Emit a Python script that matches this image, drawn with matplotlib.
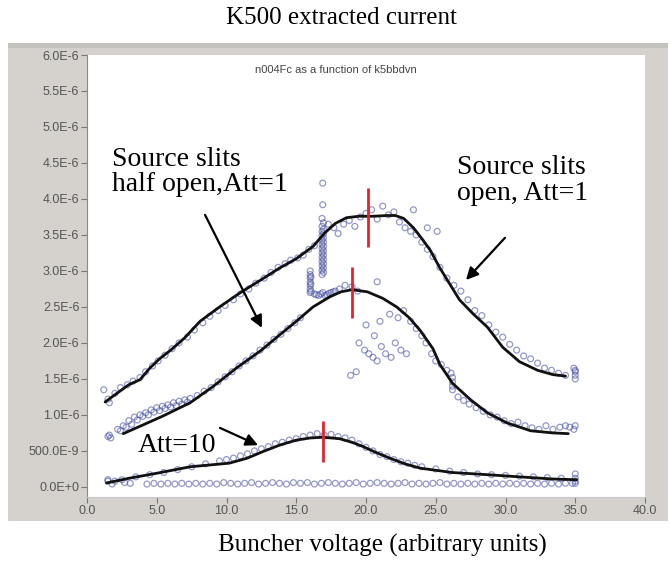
import matplotlib
matplotlib.use("Agg")
import matplotlib.pyplot as plt
from matplotlib.patches import Rectangle, FancyArrowPatch

# ---------------- data (current in units of 1E-6 A) ----------------
yticks = [0.0, 0.5, 1.0, 1.5, 2.0, 2.5, 3.0, 3.5, 4.0, 4.5, 5.0, 5.5, 6.0]
ytick_labels = ["0.0E+0", "500.0E-9", "1.0E-6", "1.5E-6", "2.0E-6", "2.5E-6",
                "3.0E-6", "3.5E-6", "4.0E-6", "4.5E-6", "5.0E-6", "5.5E-6", "6.0E-6"]
xticks = [0, 5, 10, 15, 20, 25, 30, 35, 40]
xtick_labels = ["0.0", "5.0", "10.0", "15.0", "20.0", "25.0", "30.0", "35.0", "40.0"]

# smooth hand-drawn curves
open_cx = [1.3, 2.0, 3.0, 3.8, 4.5, 5.2, 6.0, 7.0, 8.1, 9.5, 11.0, 12.5, 13.8, 15.0,
           16.2, 17.0, 17.8, 18.6, 19.5, 20.5, 21.5, 22.1, 22.7, 23.4, 24.0, 24.6,
           25.3, 26.0, 26.7, 27.7, 28.7, 29.8, 31.0, 32.3, 33.4, 34.3]
open_cy = [1.18, 1.28, 1.42, 1.49, 1.65, 1.78, 1.90, 2.07, 2.30, 2.50, 2.70, 2.88, 3.04, 3.17,
           3.34, 3.52, 3.66, 3.74, 3.76, 3.76, 3.77, 3.77, 3.73, 3.60, 3.45, 3.29,
           3.04, 2.82, 2.60, 2.40, 2.22, 1.94, 1.74, 1.62, 1.56, 1.54]

half_cx = [2.6, 4.0, 5.5, 7.4, 9.0, 10.7, 12.5, 13.8, 15.0, 16.2, 17.4, 18.2, 19.0, 20.1,
           21.2, 22.2, 23.1, 23.9, 24.8, 25.3, 26.2, 27.5, 28.7, 30.1, 31.8, 33.4, 34.5]
half_cy = [0.74, 0.86, 0.99, 1.17, 1.39, 1.65, 1.90, 2.11, 2.30, 2.50, 2.64, 2.71, 2.74, 2.71,
           2.62, 2.50, 2.35, 2.17, 1.92, 1.70, 1.44, 1.21, 1.03, 0.89, 0.78, 0.75, 0.74]

att10_cx = [1.4, 3.0, 5.0, 7.4, 10.2, 11.5, 12.6, 13.8, 15.0, 16.0, 16.9, 18.1, 19.0,
            19.8, 20.7, 21.7, 22.8, 23.9, 26.2, 28.7, 31.0, 33.4, 35.1]
att10_cy = [0.055, 0.12, 0.19, 0.28, 0.33, 0.40, 0.49, 0.58, 0.65, 0.68, 0.69, 0.67, 0.62,
            0.56, 0.48, 0.40, 0.32, 0.26, 0.20, 0.17, 0.14, 0.11, 0.10]

# measured points
open_px = [1.2, 1.5, 1.6, 2.0, 2.4, 2.9, 3.3, 3.8, 4.2, 4.7, 5.1, 5.6, 6.1, 6.6, 7.2, 7.7,
           8.3, 8.8, 9.4, 9.9, 10.5, 11.0, 11.6, 12.1, 12.7, 13.2, 13.7, 14.2, 14.6, 15.1,
           15.5, 15.9, 16.3,
           17.3, 17.7, 18.0, 18.4, 18.8, 19.2, 19.6, 20.0, 20.4, 20.8, 21.2, 21.6, 22.0,
           22.4, 22.8, 23.2, 23.4, 23.6, 24.0, 24.4, 24.4, 25.1, 24.8, 25.3, 25.8, 26.3,
           26.8, 27.3, 27.8, 28.3, 28.8, 29.3, 29.8, 30.3, 30.8, 31.3, 31.8, 32.3, 32.8,
           33.3, 33.8, 34.3, 34.9, 35.0, 35.0, 35.0, 35.0]
open_py = [1.35, 1.22, 1.17, 1.30, 1.38, 1.42, 1.47, 1.52, 1.60, 1.68, 1.75, 1.83, 1.92, 2.00,
           2.08, 2.18, 2.28, 2.37, 2.45, 2.52, 2.60, 2.68, 2.75, 2.83, 2.90, 2.98, 3.05,
           3.10, 3.15, 3.18, 3.22, 3.30, 3.35,
           3.65, 3.60, 3.52, 3.65, 3.70, 3.62, 3.75, 3.80, 3.85, 3.72, 3.90, 3.78, 3.82,
           3.68, 3.60, 3.55, 3.85, 3.50, 3.40, 3.30, 3.60, 3.55, 3.20, 3.05, 2.90, 2.80,
           2.72, 2.60, 2.45, 2.38, 2.25, 2.15, 2.08, 1.98, 1.90, 1.82, 1.78, 1.72, 1.65,
           1.62, 1.58, 1.55, 1.65, 1.60, 1.55, 1.50, 1.62]
# dense vertical cluster of the open-slit scan near x = 16.9
open_band_x = [16.85, 16.95, 16.85, 16.95, 16.85, 16.95, 16.85, 16.95, 16.85, 16.95,
               16.85, 16.95, 16.85, 16.95, 16.85, 16.95, 16.85, 16.95, 16.85, 16.95,
               16.85, 16.95, 16.85, 16.95, 16.85, 16.9, 16.9]
open_band_y = [2.95, 2.98, 3.01, 3.04, 3.07, 3.10, 3.13, 3.16, 3.19, 3.22, 3.25, 3.28,
               3.31, 3.34, 3.37, 3.40, 3.43, 3.46, 3.49, 3.52, 3.55, 3.58, 3.62, 3.67,
               3.73, 3.92, 4.22]

half_px = [1.5, 1.6, 1.7, 2.2, 2.6, 3.0, 3.4, 3.8, 4.2, 4.6, 5.0, 5.4, 5.8, 6.2, 6.6, 7.0,
           7.4, 2.4, 2.8, 3.2, 3.6, 4.0, 4.4, 4.8, 5.2, 5.6, 6.0, 6.4, 6.8, 7.2,
           7.9, 8.4, 8.9, 9.4, 9.9, 10.4, 10.9, 11.4, 11.9, 12.4, 12.9, 13.4, 13.9, 14.4,
           14.9, 15.3,
           16.0, 16.0, 16.0, 16.0, 16.0, 16.0, 16.0, 16.05, 16.05, 16.05,
           16.3, 16.6, 16.9, 17.2, 17.5, 17.8, 18.1, 18.5, 19.0, 19.4, 20.8,
           16.45, 16.75, 17.05, 17.35, 17.65,
           19.5, 19.9, 20.2, 20.5, 20.8, 21.1, 21.4, 21.8, 22.1, 22.5, 22.9, 19.3, 18.9,
           20.0, 20.6, 21.0, 21.7, 22.3, 22.7, 23.2, 23.6, 24.0, 24.3, 24.7, 25.0, 25.4,
           25.8, 26.1, 26.2, 26.2, 26.2, 26.2, 26.6, 27.0, 27.4, 27.9, 28.4, 28.9, 29.4,
           29.9, 30.4, 30.9, 31.4, 31.9, 32.4, 32.9, 33.4, 33.9, 34.3, 34.6, 34.9, 35.0]
half_py = [0.70, 0.72, 0.68, 0.80, 0.85, 0.92, 0.97, 1.00, 1.03, 1.07, 1.10, 1.12, 1.14, 1.17,
           1.19, 1.21, 1.23, 0.78, 0.83, 0.87, 0.93, 0.98, 1.00, 1.04, 1.06, 1.09, 1.11,
           1.13, 1.15, 1.18,
           1.27, 1.33, 1.38, 1.46, 1.53, 1.60, 1.68, 1.75, 1.82, 1.90, 1.97, 2.05, 2.12,
           2.20, 2.28, 2.35,
           2.70, 2.75, 2.80, 2.85, 2.90, 2.95, 3.00, 2.72, 2.82, 2.92,
           2.68, 2.66, 2.70, 2.67, 2.70, 2.72, 2.75, 2.80, 2.78, 2.72, 2.85,
           2.67, 2.68, 2.66, 2.69, 2.71,
           2.00, 1.90, 1.85, 1.80, 1.75, 1.95, 1.85, 1.80, 2.00, 1.90, 1.85, 1.60, 1.55,
           2.25, 2.10, 2.30, 2.40, 2.35, 2.45, 2.30, 2.20, 2.10, 2.00, 1.85, 1.75, 1.70,
           1.62, 1.58, 1.52, 1.46, 1.40, 1.35, 1.25, 1.20, 1.15, 1.10, 1.05, 1.00, 0.97,
           0.92, 0.88, 0.90, 0.85, 0.82, 0.80, 0.85, 0.80, 0.83, 0.85, 0.83, 0.80, 0.85]

att10_px = [1.5, 2.0, 2.5, 3.5, 4.5, 5.5, 6.5, 7.5, 8.5, 9.5, 10.0, 10.5, 11.0, 11.5, 12.0,
            12.5, 13.0, 13.5, 14.0, 14.5, 15.0, 15.5, 16.0, 16.5, 17.0, 17.5, 18.0, 18.5,
            19.0, 19.5, 20.0, 20.5, 21.0, 21.5, 22.0, 22.5, 23.0, 23.5, 24.0, 25.0, 26.0,
            27.0, 28.0, 29.0, 30.0, 31.0, 32.0, 33.0, 34.0, 35.0, 35.0, 35.0]
att10_py = [0.10, 0.08, 0.10, 0.14, 0.17, 0.20, 0.24, 0.28, 0.32, 0.36, 0.38, 0.40, 0.43,
            0.46, 0.50, 0.53, 0.56, 0.60, 0.62, 0.65, 0.67, 0.70, 0.72, 0.74, 0.72, 0.73,
            0.70, 0.68, 0.65, 0.60, 0.55, 0.50, 0.45, 0.42, 0.38, 0.35, 0.33, 0.30, 0.28,
            0.25, 0.22, 0.20, 0.18, 0.17, 0.16, 0.15, 0.14, 0.13, 0.12, 0.12, 0.18, 0.05]

base_px = [1.5, 1.8, 2.7, 3.1, 4.3, 4.8, 5.3, 5.8, 6.3, 6.8, 7.3, 7.8, 8.3, 8.8, 9.3, 9.8,
           10.3, 10.8, 11.3, 11.8, 12.3, 12.8, 13.3, 13.8, 14.3, 14.8, 15.3, 15.8, 16.3,
           16.8, 17.3, 17.8, 18.3, 18.8, 19.3, 19.8, 20.3, 20.8, 21.3, 21.8, 22.3, 22.8,
           23.3, 23.8, 24.3, 24.8, 25.3, 25.8, 26.3, 26.8, 27.3, 27.8, 28.3, 28.8, 29.3,
           29.8, 30.3, 30.8, 31.3, 31.8, 32.3, 32.8, 33.3, 33.8, 34.3, 34.8, 35.0]
base_py = [0.08, 0.04, 0.06, 0.05, 0.04, 0.05, 0.04, 0.05, 0.04, 0.05, 0.04, 0.05, 0.04,
           0.05, 0.04, 0.06, 0.05, 0.04, 0.05, 0.06, 0.04, 0.05, 0.06, 0.05, 0.04, 0.06,
           0.05, 0.06, 0.04, 0.05, 0.06, 0.05, 0.04, 0.05, 0.06, 0.04, 0.05, 0.06, 0.05,
           0.04, 0.05, 0.06, 0.04, 0.05, 0.04, 0.05, 0.06, 0.04, 0.05, 0.04, 0.05, 0.04,
           0.05, 0.04, 0.05, 0.04, 0.05, 0.04, 0.05, 0.04, 0.05, 0.04, 0.05, 0.04, 0.05,
           0.05, 0.08]

# red peak markers: x, ymin, ymax
peak_x = [20.15, 19.0, 16.9]
peak_lo = [3.33, 2.35, 0.35]
peak_hi = [4.15, 3.06, 0.92]

# ---------------- figure ----------------
W, H = 670, 564
fig = plt.figure(figsize=(W / 100, H / 100), dpi=100)
fig.patch.set_facecolor("white")

# grey instrument panel
fig.add_artist(Rectangle((8 / W, 1 - 521 / H), 660 / W, 478 / H, transform=fig.transFigure,
                         facecolor="#d5d2cd", edgecolor="none", zorder=0))
fig.add_artist(Rectangle((8 / W, 1 - 48 / H), 660 / W, 5 / H, transform=fig.transFigure,
                         facecolor="#c4c2bf", edgecolor="none", zorder=0))

ax = fig.add_axes([87 / W, 1 - 497 / H, 558 / W, 442 / H])
ax.set_facecolor("white")
ax.set_xlim(0, 40)
ax.set_ylim(-0.14, 6.0)

mk = dict(marker="o", facecolors="none", edgecolors="#4b55a5", linewidths=0.9, s=18,
          alpha=0.6, zorder=2)
ax.scatter(open_px, open_py, **mk)
ax.scatter(open_band_x, open_band_y, **mk)
ax.scatter(half_px, half_py, **mk)
ax.scatter(att10_px, att10_py, **mk)
ax.scatter(base_px, base_py, **mk)

lk = dict(color="#111111", lw=2.0, zorder=3, solid_capstyle="round")
ax.plot(open_cx, open_cy, **lk)
ax.plot(half_cx, half_cy, **lk)
ax.plot(att10_cx, att10_cy, **lk)

ax.vlines(peak_x, peak_lo, peak_hi, colors="#e8212b", lw=2.0, zorder=4)

ax.set_xticks(xticks)
ax.set_xticklabels(xtick_labels)
ax.set_yticks(yticks)
ax.set_yticklabels(ytick_labels)
for lab in ax.get_xticklabels() + ax.get_yticklabels():
    lab.set_fontfamily("Liberation Sans")
    lab.set_fontsize(9)
    lab.set_color("#555555")
ax.tick_params(axis="both", direction="out", length=4, width=0.8, color="#777777", pad=1.5)
for s in ["top", "right"]:
    ax.spines[s].set_visible(False)
ax.spines["left"].set_color("#8a8a8a")
ax.spines["bottom"].set_color("#c8c8c8")

ax.text(0.446, 0.966, "n004Fc as a function of k5bbdvn", transform=ax.transAxes,
        ha="center", va="center", fontsize=8, color="#444444", family="Liberation Sans")

serif = "Liberation Serif"
ax.text(1.79, 4.375, "Source slits\nhalf open,Att=1", ha="left", va="center",
        fontsize=20, family=serif, linespacing=1.05, zorder=5)
ax.text(26.5, 4.26, "Source slits\nopen, Att=1", ha="left", va="center",
        fontsize=20, family=serif, linespacing=1.05, zorder=5)
ax.text(3.66, 0.57, "Att=10", ha="left", va="center", fontsize=20, family=serif, zorder=5)

arrows = [((8.46, 3.78), (12.54, 2.21)), ((29.96, 3.46), (27.17, 2.875)),
          ((9.53, 0.82), (12.26, 0.58))]
for (p0, p1) in arrows:
    ax.add_patch(FancyArrowPatch(p0, p1, arrowstyle="-|>", mutation_scale=18, lw=1.6,
                                 color="black", shrinkA=0, shrinkB=0, zorder=5))

fig.text(341 / W, 1 - 18 / H, "K500 extracted current", ha="center", va="center",
         fontsize=18, family=serif)
fig.text(382 / W, 1 - 545 / H, "Buncher voltage (arbitrary units)", ha="center",
         va="center", fontsize=18, family=serif)

fig.savefig("out.png", dpi=100)
